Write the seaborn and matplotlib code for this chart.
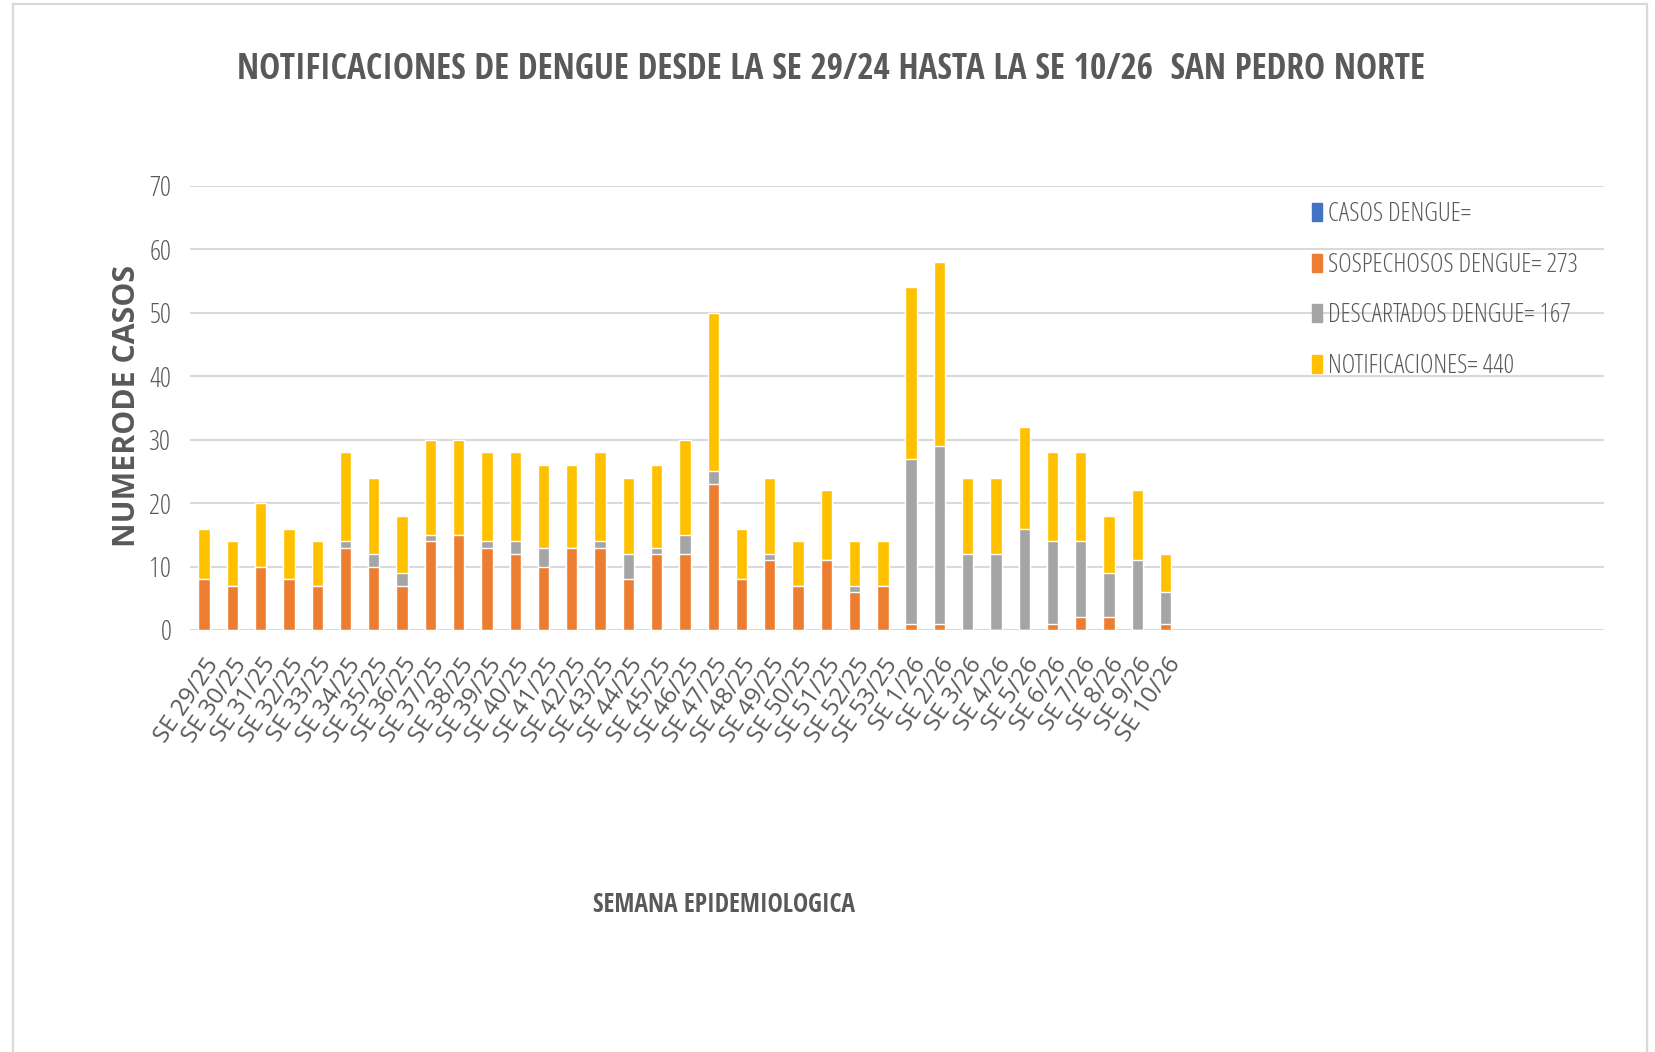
import matplotlib
matplotlib.use("Agg")
import matplotlib.pyplot as plt
import matplotlib.patches as mpatches
from matplotlib import font_manager as fm
import seaborn as sns
import pandas as pd

# ---------------- data ----------------
semanas = [
    "SE 29/25", "SE 30/25", "SE 31/25", "SE 32/25", "SE 33/25", "SE 34/25",
    "SE 35/25", "SE 36/25", "SE 37/25", "SE 38/25", "SE 39/25", "SE 40/25",
    "SE 41/25", "SE 42/25", "SE 43/25", "SE 44/25", "SE 45/25", "SE 46/25",
    "SE 47/25", "SE 48/25", "SE 49/25", "SE 50/25", "SE 51/25", "SE 52/25",
    "SE 53/25", "SE 1/26", "SE 2/26", "SE 3/26", "SE 4/26", "SE 5/26",
    "SE 6/26", "SE 7/26", "SE 8/26", "SE 9/26", "SE 10/26",
]
casos = [0] * len(semanas)
sospechosos = [8, 7, 10, 8, 7, 13, 10, 7, 14, 15, 13, 12, 10, 13,
               13, 8, 12, 12, 23, 8, 11, 7, 11, 6, 7,
               1, 1, 0, 0, 0, 1, 2, 2, 0, 1]
descartados = [0, 0, 0, 0, 0, 1, 2, 2, 1, 0, 1, 2, 3, 0,
               1, 4, 1, 3, 2, 0, 1, 0, 0, 1, 0,
               26, 28, 12, 12, 16, 13, 12, 7, 11, 5]
notificaciones = [s + d for s, d in zip(sospechosos, descartados)]

labels_legend = ["CASOS DENGUE=", "SOSPECHOSOS DENGUE= 273",
                 "DESCARTADOS DENGUE= 167", "NOTIFICACIONES= 440"]
titulo = "NOTIFICACIONES DE DENGUE DESDE LA SE 29/24 HASTA LA SE 10/26  SAN PEDRO NORTE"
ylab = "NUMERODE CASOS"
xlab = "SEMANA EPIDEMIOLOGICA"

df = pd.DataFrame({
    "semana": semanas,
    "sosp": sospechosos,
    "desc": descartados,
    "notif": notificaciones,
})
df["h_gray"] = df["sosp"] + df["desc"]
df["h_total"] = df["h_gray"] + df["notif"]

# ---------------- style ----------------
C_BLUE = "#4472C4"
C_ORANGE = "#ED7D31"
C_GRAY = "#A5A5A5"
C_YELLOW = "#FFC000"
TXT = "#595959"
GRID = "#D9D9D9"

sns.set_theme(style="white")
plt.rcParams["font.family"] = ["Open Sans", "DejaVu Sans"]


def _wnum(w):
    if isinstance(w, (int, float)):
        return float(w)
    return float(fm.weight_dict.get(str(w), 400))


def find_narrow(target_weight):
    best = None
    pref = ["open sans", "noto sans", "roboto", "liberation sans", "lato", "inter", "dejavu sans"]
    for f in fm.fontManager.ttflist:
        nm = f.name.lower()
        st = str(f.stretch).lower()
        narrow = ("condensed" in nm or "narrow" in nm or
                  st in ("condensed", "semi-condensed", "extra-condensed", "ultra-condensed"))
        if st.replace(".", "").isdigit():
            narrow = narrow or float(st) < 100
        if not narrow or f.style != "normal":
            continue
        if "extra" in nm or "ultra" in nm or "semi" in nm:
            continue
        if "cjk" in nm or "mono" in nm:
            continue
        rank = next((i for i, p in enumerate(pref) if nm.startswith(p)), len(pref))
        score = (rank, abs(_wnum(f.weight) - target_weight))
        if best is None or score < best[0]:
            best = (score, f.fname)
    if best is not None:
        return fm.FontProperties(fname=best[1])
    return fm.FontProperties(family=["Open Sans", "DejaVu Sans"],
                             weight="bold" if target_weight >= 600 else "normal")


FP_BOLD = find_narrow(700)
FP_REG = find_narrow(400)
FP_YLAB = fm.FontProperties(family=["Open Sans", "DejaVu Sans"], weight="bold")
FP_XTICK = fm.FontProperties(family=["Open Sans", "DejaVu Sans"], weight="normal")

W, H = 1655, 1052
fig = plt.figure(figsize=(W / 100, H / 100), dpi=100)
fig.patch.set_facecolor("white")
ax = fig.add_axes([190 / W, 1 - 630 / H, (1604 - 190) / W, (630 - 186) / H])

order = semanas
sns.barplot(data=df, x="semana", y="h_total", order=order, color=C_YELLOW,
            width=0.4, saturation=1, ax=ax, zorder=3)
sns.barplot(data=df, x="semana", y="h_gray", order=order, color=C_GRAY,
            width=0.4, saturation=1, ax=ax, zorder=4)
sns.barplot(data=df, x="semana", y="sosp", order=order, color=C_ORANGE,
            width=0.4, saturation=1, ax=ax, zorder=5)

ax.set_xlim(-0.5, 49.5)
ax.set_ylim(0, 70)
ax.set_yticks(range(0, 71, 10))
ax.yaxis.grid(True, color=GRID, linewidth=1.5, zorder=0)
ax.xaxis.grid(False)
ax.set_axisbelow(True)
for s in ax.spines.values():
    s.set_visible(False)
ax.set_xlabel("")
ax.set_ylabel("")
ax.set_xticks(range(len(semanas)))
ax.set_xticklabels(semanas, rotation=56, ha="right", rotation_mode="anchor")
ax.tick_params(axis="y", length=0, pad=13.5, labelcolor=TXT)
ax.tick_params(axis="x", length=0, pad=17, labelcolor=TXT)

renderer = fig.canvas.get_renderer()


def fitted_size(text, fp, target_px, base=20.0):
    p = fp.copy()
    p.set_size(base)
    t = fig.text(0, 0, text, fontproperties=p, rotation=0)
    w = t.get_window_extent(renderer).width
    t.remove()
    return base * target_px / w


def with_size(fp, size):
    p = fp.copy()
    p.set_size(size)
    return p


# tick labels
ysz = fitted_size("70", FP_REG, 22)
for lbl in ax.get_yticklabels():
    lbl.set_fontproperties(with_size(FP_REG, ysz))
    lbl.set_color(TXT)
xsz = fitted_size("SE 29/25", FP_XTICK, 96)
for lbl in ax.get_xticklabels():
    lbl.set_fontproperties(with_size(FP_XTICK, xsz))
    lbl.set_color(TXT)

# axis titles
fig.text(127 / W, 1 - 406 / H, ylab, rotation=90, ha="center", va="center",
         fontproperties=with_size(FP_YLAB, fitted_size(ylab, FP_YLAB, 282)), color=TXT)
fig.text(724 / W, 1 - 905 / H, xlab, ha="center", va="center",
         fontproperties=with_size(FP_BOLD, fitted_size(xlab, FP_BOLD, 262)), color=TXT)

# title
fig.text(831 / W, 1 - 70 / H, titulo, ha="center", va="center",
         fontproperties=with_size(FP_BOLD, fitted_size(titulo, FP_BOLD, 1186)), color=TXT)

# legend
lsz = fitted_size(labels_legend[1], FP_REG, 250)
lsz_px = lsz * 100 / 72
handles = [mpatches.Patch(color=c) for c in (C_BLUE, C_ORANGE, C_GRAY, C_YELLOW)]
fig.legend(handles, labels_legend, loc="upper left",
           bbox_to_anchor=(1312 / W, 1 - 202 / H),
           frameon=False, prop=with_size(FP_REG, lsz), labelcolor=TXT,
           handlelength=10 / lsz_px, handleheight=18 / lsz_px, handletextpad=6 / lsz_px,
           labelspacing=max(0.2, 53.0 / lsz_px - 1.05), borderpad=0, borderaxespad=0)

# outer border
fig.patches.append(mpatches.Rectangle((13 / W, -0.02), (1647 - 13) / W, 0.02 + 1 - 4 / H,
                                      transform=fig.transFigure, fill=False,
                                      edgecolor=GRID, linewidth=1.6))

fig.savefig("out.png", dpi=100, facecolor="white")
